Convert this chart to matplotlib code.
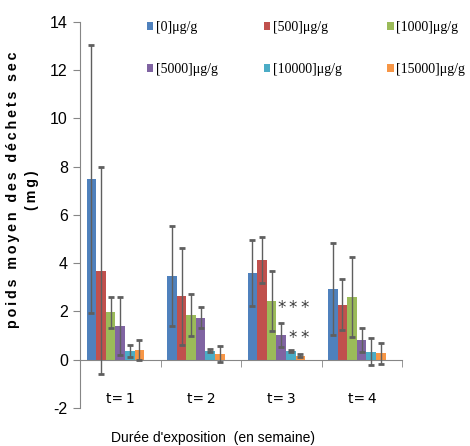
import matplotlib
matplotlib.use('Agg')
import matplotlib.pyplot as plt
import numpy as np

# data
weeks = ['t=\u20091', 't=\u20092', 't=\u20093', 't=\u20094']
doses = ['[0]\u03bcg/g', '[500]\u03bcg/g', '[1000]\u03bcg/g',
         '[5000]\u03bcg/g', '[10000]\u03bcg/g', '[15000]\u03bcg/g']
dose_0 = [7.49, 3.47, 3.59, 2.93]
dose_500 = [3.69, 2.62, 4.14, 2.28]
dose_1000 = [1.96, 1.85, 2.42, 2.58]
dose_5000 = [1.41, 1.73, 1.01, 0.81]
dose_10000 = [0.35, 0.37, 0.35, 0.33]
dose_15000 = [0.40, 0.23, 0.17, 0.26]
err_0 = [5.55, 2.07, 1.37, 1.90]
err_500 = [4.28, 2.00, 0.96, 1.05]
err_1000 = [0.64, 0.87, 1.25, 1.66]
err_5000 = [1.20, 0.44, 0.50, 0.48]
err_10000 = [0.25, 0.05, 0.03, 0.56]
err_15000 = [0.43, 0.32, 0.07, 0.44]
# significance stars (week index, bar index, height)
stars = [(2, 3, 2.45), (2, 4, 2.45), (2, 5, 2.45), (2, 4, 1.2), (2, 5, 1.2)]

means = [dose_0, dose_500, dose_1000, dose_5000, dose_10000, dose_15000]
errs = [err_0, err_500, err_1000, err_5000, err_10000, err_15000]
colors = ['#4F81BD', '#C0504D', '#9BBB59', '#8064A2', '#4BACC6', '#F79646']

SANS = ['Liberation Sans', 'DejaVu Sans']

fig = plt.figure(figsize=(4.70, 4.46), dpi=100)
ax = fig.add_axes([0.171, 0.0854, 0.685, 0.866])

x = np.arange(len(weeks))
w = 0.119
shift = -0.065
handles = []
for i, (m, e, c) in enumerate(zip(means, errs, colors)):
    pos = x + (i - 2.5) * w + shift
    b = ax.bar(pos, m, width=w, color=c, edgecolor='none', zorder=2, label=doses[i])
    handles.append(b)
    eb = ax.errorbar(pos, m, yerr=e, fmt='none', ecolor='#5f5f5f', elinewidth=1,
                     capsize=2.4, capthick=2, zorder=3)
    for cap in eb[1]:
        cap.set_color('#111111')

# stars sit a bit right of the bars, spaced ~12 px apart
for wk, bi, yv in stars:
    ax.text(x[wk] + (bi - 3) * 0.145 + shift + 0.06, yv - 0.3, '*', ha='center', va='center',
            fontsize=12, color='#3a3a3a', family=['DejaVu Sans'])

ax.set_xlim(-0.5, 3.5)
ax.set_ylim(-2, 14)
ax.set_yticks(np.arange(-2, 15, 2))
ax.set_yticklabels([str(v) for v in range(-2, 15, 2)], family=SANS, fontsize=11.5)
ax.set_xticks(x)
ax.set_xticklabels(weeks, family=SANS, fontsize=11)
ax.set_xticks(np.arange(-0.5, 4, 1), minor=True)
ax.tick_params(axis='x', which='major', length=0, pad=23)
ax.tick_params(axis='x', which='minor', length=5, color='#868686', direction='out')
ax.tick_params(axis='y', length=5, color='#868686', direction='out', pad=4)

for s in ['top', 'right']:
    ax.spines[s].set_visible(False)
ax.spines['bottom'].set_position(('data', 0))
ax.spines['left'].set_color('#868686')
ax.spines['bottom'].set_color('#868686')

ax.set_xlabel("Dur\u00e9e d'exposition  (en semaine)", family=SANS, fontsize=10)
ax.xaxis.set_label_coords(0.412, -0.077)
ax.xaxis.label.set_va('center')

ylab1 = '\u2009'.join('poids moyen des d\u00e9chets sec')
ylab2 = '\u2009'.join('(mg)')
ax.set_ylabel(ylab1 + '\n' + ylab2, family=SANS,
              fontsize=10.3, fontweight='bold', multialignment='center', linespacing=1.45)
ax.yaxis.set_label_coords(-0.18, 0.565)
ax.yaxis.label.set_va('center')

order = [0, 3, 1, 4, 2, 5]
leg = fig.legend([handles[k] for k in order], [doses[k] for k in order],
                 loc='upper left', bbox_to_anchor=(147 / 470, 1 - 21 / 446),
                 ncol=3, frameon=False, prop={'family': ['Liberation Serif', 'DejaVu Serif'], 'size': 10},
                 handlelength=0.45, handleheight=0.5, handletextpad=0.2,
                 columnspacing=3.3, labelspacing=2.1, borderpad=0, borderaxespad=0)

fig.savefig('out.png', dpi=100)
